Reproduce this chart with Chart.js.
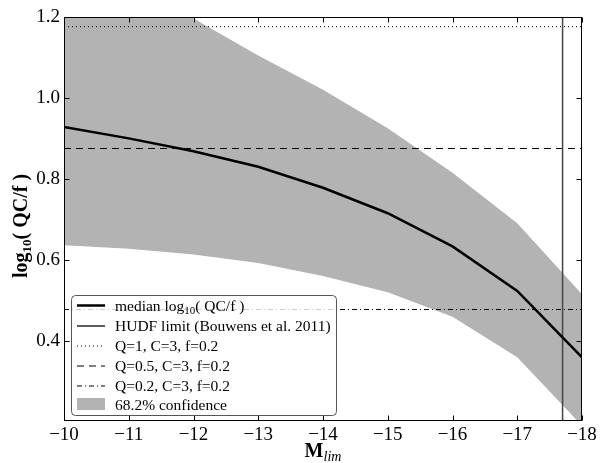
<!DOCTYPE html>
<html><head><meta charset="utf-8">
<script src="https://cdn.jsdelivr.net/npm/chart.js@4/dist/chart.umd.min.js"></script>
<style>html,body{margin:0;padding:0;background:#fff;overflow:hidden}canvas{display:block}</style>
</head><body>
<canvas id="c" width="601" height="463"></canvas>
<script>
const mlim   = [-10, -11, -12, -13, -14, -15, -16, -17, -18];
const median = [0.928, 0.900, 0.868, 0.830, 0.778, 0.715, 0.633, 0.523, 0.359];
const upper  = [1.36, 1.28, 1.196, 1.105, 1.02, 0.925, 0.815, 0.69, 0.515];
const lower  = [0.636, 0.627, 0.613, 0.592, 0.560, 0.520, 0.459, 0.359, 0.19];
const hudfLimit = -17.7;
const qLevels = [1.176, 0.875, 0.477];
const xTicks = [-10, -11, -12, -13, -14, -15, -16, -17, -18];
const yTicks = [0.4, 0.6, 0.8, 1.0, 1.2];
const legendLabels = ['median log', 'HUDF limit (Bouwens et al. 2011)', 'Q=1, C=3, f=0.2', 'Q=0.5, C=3, f=0.2', 'Q=0.2, C=3, f=0.2', '68.2% confidence'];

const SERIF = '"Liberation Serif", "DejaVu Serif", serif';
const pts = ys => mlim.map((x, i) => ({x: x, y: ys[i]}));
const hline = v => [{x: -10, y: v}, {x: -18, y: v}];
const DOT = [1, 3], DASH = [7, 5], DASHDOT = [5, 3, 1, 3];

function drawParts(ctx, parts, x, y, align) {
  let w = 0;
  parts.forEach(p => { ctx.font = p.font; w += ctx.measureText(p.t).width; });
  let cx = align === 'center' ? x - w / 2 : x;
  ctx.textAlign = 'left';
  ctx.textBaseline = 'alphabetic';
  parts.forEach(p => { ctx.font = p.font; ctx.fillText(p.t, cx, y + (p.dy || 0)); cx += ctx.measureText(p.t).width; });
}

const overlay = {
  id: 'overlay',
  afterDraw(chart) {
    const ctx = chart.ctx, a = chart.chartArea, xs = chart.scales.x, ys = chart.scales.y;
    ctx.save();
    // frame
    ctx.strokeStyle = '#000'; ctx.lineWidth = 1; ctx.setLineDash([]);
    const L = Math.round(a.left) + 0.5, R = Math.round(a.right) - 0.5, T = Math.round(a.top) + 0.5, B = Math.round(a.bottom) - 0.5;
    ctx.strokeRect(L, T, R - L, B - T);
    // inward ticks
    ctx.beginPath();
    xTicks.forEach(v => { const px = Math.round(xs.getPixelForValue(v)) + 0.5; ctx.moveTo(px, B); ctx.lineTo(px, B - 5); ctx.moveTo(px, T); ctx.lineTo(px, T + 5); });
    yTicks.forEach(v => { const py = Math.round(ys.getPixelForValue(v)) + 0.5; ctx.moveTo(L, py); ctx.lineTo(L + 5, py); ctx.moveTo(R, py); ctx.lineTo(R - 5, py); });
    ctx.stroke();
    // axis titles
    ctx.fillStyle = '#000';
    drawParts(ctx, [{t: 'M', font: 'bold 20px ' + SERIF}, {t: 'lim', font: 'italic 14px ' + SERIF, dy: 4}], (a.left + a.right) / 2, 457, 'center');
    ctx.save();
    ctx.translate(27, 226);
    ctx.rotate(-Math.PI / 2);
    drawParts(ctx, [{t: 'log', font: 'bold 20px ' + SERIF}, {t: '10', font: 'bold 13px ' + SERIF, dy: 4}, {t: '( QC/f )', font: 'bold 20px ' + SERIF}], 0, 0, 'center');
    ctx.restore();
    // legend
    const bx = 71.5, by = 295.5, bw = 265, bh = 120;
    ctx.beginPath();
    ctx.roundRect(bx, by, bw, bh, 4);
    ctx.fillStyle = 'rgba(255,255,255,0.8)';
    ctx.fill();
    ctx.strokeStyle = '#555'; ctx.lineWidth = 1;
    ctx.stroke();
    const rows = [305.5, 326, 346, 366, 386, 405];
    const styles = [{w: 2.5, d: []}, {w: 1.3, d: []}, {w: 1, d: DOT}, {w: 1, d: DASH}, {w: 1, d: DASHDOT}];
    styles.forEach((s, i) => {
      ctx.beginPath(); ctx.strokeStyle = '#000'; ctx.lineWidth = s.w; ctx.setLineDash(s.d); ctx.lineCap = 'butt';
      ctx.moveTo(77, rows[i]); ctx.lineTo(105, rows[i]); ctx.stroke();
    });
    ctx.setLineDash([]);
    ctx.fillStyle = '#b3b3b3';
    ctx.fillRect(77, 398, 28, 12);
    ctx.fillStyle = '#000';
    const lf = '15.5px ' + SERIF;
    drawParts(ctx, [{t: legendLabels[0], font: lf}, {t: '10', font: '11px ' + SERIF, dy: 3}, {t: '( QC/f )', font: lf}], 115, rows[0] + 5, 'left');
    for (let i = 1; i < 6; i++) drawParts(ctx, [{t: legendLabels[i], font: lf}], 115, rows[i] + 5, 'left');
    ctx.restore();
  }
};

const lineDs = (label, data, w, dash, color, order) => ({label, data, borderColor: color, borderWidth: w, borderDash: dash, borderCapStyle: 'butt', pointRadius: 0, fill: false, tension: 0, order});

new Chart(document.getElementById('c'), {
  type: 'line',
  data: {datasets: [
    {label: '68.2% confidence', data: pts(upper), fill: '+1', backgroundColor: '#b3b3b3', borderWidth: 0, pointRadius: 0, tension: 0, order: 10},
    {label: 'lower', data: pts(lower), fill: false, borderWidth: 0, pointRadius: 0, tension: 0, order: 9},
    lineDs('Q=1, C=3, f=0.2', hline(qLevels[0]), 1, DOT, '#000', 5),
    lineDs('Q=0.5, C=3, f=0.2', hline(qLevels[1]), 1, DASH, '#000', 5),
    lineDs('Q=0.2, C=3, f=0.2', hline(qLevels[2]), 1, DASHDOT, '#000', 5),
    lineDs('HUDF limit (Bouwens et al. 2011)', [{x: hudfLimit, y: 0}, {x: hudfLimit, y: 2}], 1.5, [], '#444', 4),
    lineDs('median log10( QC/f )', pts(median), 2.5, [], '#000', 0)
  ]},
  options: {
    responsive: false, animation: false, devicePixelRatio: 1,
    layout: {padding: {left: 0, top: 17, right: 19, bottom: 0}},
    plugins: {legend: {display: false}, tooltip: {enabled: false}},
    scales: {
      x: {type: 'linear', reverse: true, min: -18, max: -10,
        afterFit(s) { s.height = 42; },
        afterBuildTicks(s) { s.ticks = xTicks.map(v => ({value: v})); },
        grid: {display: false, drawTicks: false}, border: {display: false},
        ticks: {font: {family: SERIF, size: 19}, color: '#000', padding: 3, maxRotation: 0, autoSkip: false,
          callback: v => String(v).replace('-', '\u2212')}},
      y: {type: 'linear', min: 0.2015, max: 1.2,
        afterFit(s) { s.width = 64; },
        afterBuildTicks(s) { s.ticks = yTicks.map(v => ({value: v})); },
        grid: {display: false, drawTicks: false}, border: {display: false},
        ticks: {font: {family: SERIF, size: 19}, color: '#000', padding: 4, autoSkip: false,
          callback: v => Number(v).toFixed(1)}}
    }
  },
  plugins: [overlay]
});
</script>
</body></html>
